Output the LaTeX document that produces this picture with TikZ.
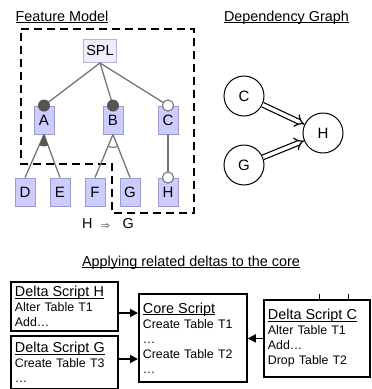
\documentclass[tikz,border=0pt]{standalone}
\usepackage{fontspec}
\setmainfont{Liberation Sans}
\usetikzlibrary{arrows.meta,calc}
\definecolor{ffill}{HTML}{CCCCFF}
\definecolor{fborder}{HTML}{9C9CCC}
\definecolor{splfill}{HTML}{EEEEFA}
\definecolor{splborder}{HTML}{B4B4D8}
\definecolor{fedgec}{HTML}{757575}
\definecolor{dotc}{HTML}{555555}
\newcommand\myul[1]{\setbox0=\hbox{#1}\rlap{\rule[-2.3pt]{\wd0}{1pt}}\box0}
\begin{document}
\begin{tikzpicture}[x=1pt,y=-1pt,
  title/.style={anchor=base,inner sep=0pt,font=\fontsize{14.4}{16}\selectfont},
  feat/.style={draw=fborder,fill=ffill,line width=0.9pt,minimum width=20pt,minimum height=28pt,inner sep=0pt,font=\fontsize{15}{15}\selectfont},
  root/.style={draw=splborder,fill=splfill,line width=0.9pt,minimum width=33pt,minimum height=23pt,inner sep=0pt,font=\fontsize{14.5}{15}\selectfont},
  fedge/.style={draw=fedgec,line width=1.3pt},
  mandot/.style={fill=dotc},
  optdot/.style={fill=white,draw=fedgec,line width=1.1pt},
  dashline/.style={draw=black,line width=1.3pt,dash pattern=on 8pt off 5pt},
  dnode/.style={circle,draw,line width=1pt,minimum size=40pt,inner sep=0pt,font=\fontsize{15}{15}\selectfont},
  dep/.style={draw,double,double distance=3.5pt,line width=1.2pt,-{Implies}},
  sbox/.style={draw,line width=1.8pt,anchor=north west,inner xsep=4pt,inner ysep=0pt,align=left,font=\fontsize{12.4}{15}\selectfont},
  sarrow/.style={draw,line width=1.8pt,-{Triangle[length=8pt,width=8pt]}}
]
\useasboundingbox (0,0) rectangle (372,389);

% titles
\node[title] (tfm) at (62,21) {\myul{Feature Model}};
\node[title] (tdg) at (286.5,21) {\myul{Dependency Graph}};
\node[title] (tap) at (191,266) {\myul{Applying related deltas to the core}};

% dashed region
\draw[dashline] (21,29) -- (194,29) -- (194,213) -- (112,213) -- (112,164) -- (21,164) -- cycle;

% feature model
\node[root] (SPL) at (100,51) {SPL};
\node[feat] (A) at (44,120) {A};
\node[feat] (B) at (113,120) {B};
\node[feat] (C) at (168,120) {C};
\node[feat] (D) at (25,192) {D};
\node[feat] (E) at (60,192) {E};
\node[feat] (F) at (95,192) {F};
\node[feat] (G) at (130,192) {G};
\node[feat] (H) at (168,192) {H};

\draw[fedge] (SPL.south) -- (A.north);
\draw[fedge] (SPL.south) -- (B.north);
\draw[fedge] (SPL.south) -- (C.north);
\draw[fedge] (A.south) -- (D.north);
\draw[fedge] (A.south) -- (E.north);
\draw[fedge] (B.south) -- (F.north);
\draw[fedge] (B.south) -- (G.north);
\draw[fedge] (C.south) -- (H.north);

\begin{scope}
  \clip (A.south) -- (D.north) -- (E.north) -- cycle;
  \fill[dotc] (A.south) circle (12pt);
\end{scope}
\begin{scope}
  \clip (B.south) -- (F.north) -- (G.north) -- cycle;
  \draw[fedgec,line width=1.1pt] (B.south) circle (13pt);
\end{scope}

\fill[mandot] (A.north) circle (6pt);
\fill[mandot] (B.north) circle (6pt);
\filldraw[optdot] (C.north) circle (5.6pt);
\filldraw[optdot] (H.north) circle (5.6pt);

\node[inner sep=0pt,font=\fontsize{14.4}{16}\selectfont] (impl) at (108,224) {H\hspace{8pt}{\fontsize{10}{10}\selectfont$\Rightarrow$}\hspace{12pt}G};

% dependency graph
\node[dnode] (dC) at (244,96) {C};
\node[dnode] (dG) at (244,165) {G};
\node[dnode] (dH) at (323,133) {H};
\draw[dep] (dC) -- (dH);
\draw[dep] (dG) -- (dH);

% scripts
\node[sbox,text width=99pt,minimum height=49pt] (sH) at (10,281)
  {{\fontsize{14.4}{15}\selectfont\myul{Delta Script H}}\\Alter Table T1\\Add…};
\node[sbox,text width=99pt,minimum height=53pt] (sG) at (10,335)
  {{\fontsize{14.4}{15}\selectfont\myul{Delta Script G}}\\Create Table T3\\…};
\node[sbox,text width=100pt,minimum height=88pt] (core) at (138,293)
  {{\fontsize{14.4}{15}\selectfont\myul{Core Script}}\\Create Table T1\\…\\Create Table T2\\…};
\node[sbox,text width=98pt,minimum height=77pt] (sC) at (263,299)
  {{\fontsize{14.4}{15}\selectfont\myul{Delta Script C}}\\Alter Table T1\\Add…\\Drop Table T2};

\draw[sarrow] (sH.east |- 0,313) -- (core.west |- 0,313);
\draw[sarrow] (sG.east |- 0,359) -- (core.west |- 0,359);
\draw[sarrow] (sC.west) -- (core.east |- sC.west);

% small ticks above Delta Script C
\draw[line width=0.6pt] (319,299) -- (319,294);
\draw[line width=0.6pt] (348,299) -- (348,294);
\end{tikzpicture}
\end{document}
